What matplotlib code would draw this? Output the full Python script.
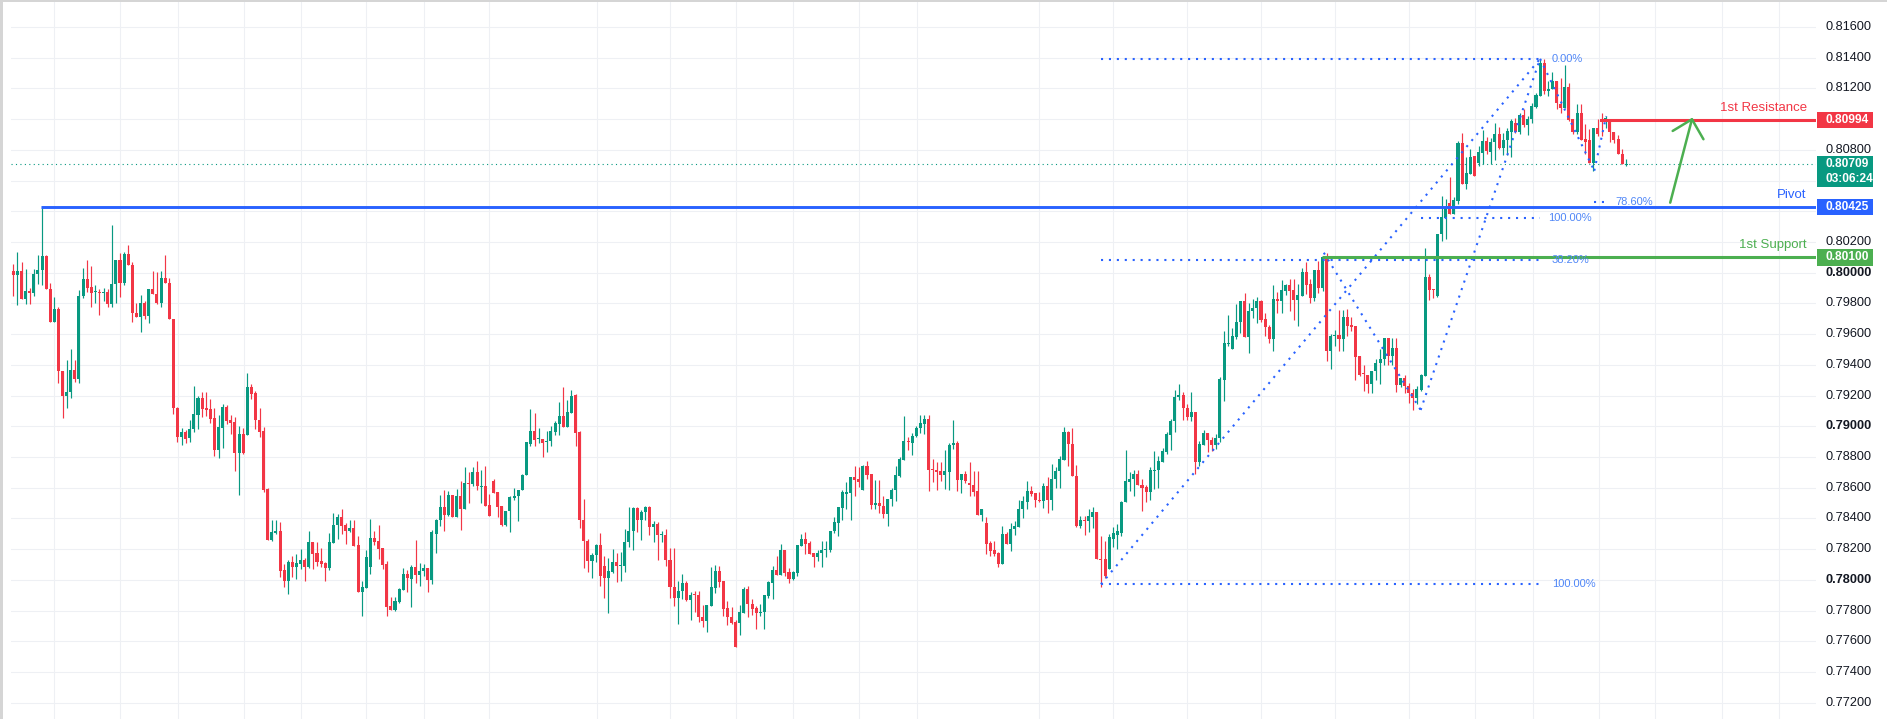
import numpy as np
import matplotlib
matplotlib.use("Agg")
import matplotlib.pyplot as plt
from matplotlib import transforms
from matplotlib.patches import Rectangle

plt.rcParams['font.family'] = ['Liberation Sans', 'DejaVu Sans']

# ---------------- data ----------------
opens = [
 0.80013,0.79983,0.80013,0.79827,0.79883,0.79866,0.79989,0.80015,0.80111,0.79896,
 0.79677,0.79766,0.79363,0.79196,0.79222,0.79369,0.79311,0.79846,0.79961,0.79905,
 0.79874,0.79876,0.79872,0.79876,0.79794,0.79924,0.80080,0.79935,0.80124,0.80052,
 0.79740,0.79710,0.79805,0.79716,0.79894,0.79861,0.79801,0.79967,0.79935,0.79701,
 0.79121,0.78930,0.78960,0.78925,0.78985,0.79073,0.79185,0.79116,0.79110,0.79051,
 0.78845,0.78989,0.79123,0.79038,0.79025,0.78826,0.78947,0.78943,0.79253,0.79214,
 0.79038,0.78967,0.78592,0.78260,0.78304,0.78317,0.78065,0.77994,0.78117,0.78085,
 0.78102,0.78128,0.78085,0.78245,0.78174,0.78121,0.78108,0.78078,0.78241,0.78356,
 0.78408,0.78356,0.78319,0.78336,0.78226,0.77922,0.77948,0.78085,0.78271,0.78254,
 0.78206,0.78102,0.77829,0.77803,0.77857,0.77935,0.78037,0.78007,0.78083,0.78033,
 0.78059,0.78078,0.77996,0.78300,0.78387,0.78474,0.78424,0.78552,0.78406,0.78548,
 0.78459,0.78633,0.78626,0.78704,0.78609,0.78613,0.78489,0.78646,0.78572,0.78478,
 0.78354,0.78446,0.78530,0.78543,0.78583,0.78680,0.78887,0.78967,0.78915,0.78920,
 0.78896,0.78902,0.78961,0.79015,0.79065,0.78993,0.79087,0.79202,0.78961,0.78391,
 0.78254,0.78124,0.78163,0.78224,0.78091,0.78015,0.78054,0.78117,0.78093,0.78089,
 0.78245,0.78317,0.78468,0.78388,0.78444,0.78473,0.78342,0.78366,0.78290,0.78295,
 0.78132,0.77956,0.77882,0.77930,0.77980,0.77867,0.77904,0.77900,0.77761,0.77731,
 0.77831,0.77950,0.78056,0.77991,0.77817,0.77761,0.77724,0.77720,0.77785,0.77943,
 0.77843,0.77817,0.77787,0.77791,0.77893,0.77980,0.78067,0.78034,0.78197,0.78052,
 0.78008,0.78047,0.78219,0.78269,0.78240,0.78175,0.78147,0.78175,0.78193,0.78197,
 0.78317,0.78371,0.78468,0.78562,0.78566,0.78668,0.78659,0.78583,0.78740,0.78692,
 0.78486,0.78501,0.78484,0.78431,0.78527,0.78583,0.78679,0.78783,0.78902,0.78891,
 0.78935,0.78989,0.79017,0.79050,0.78724,0.78718,0.78707,0.78685,0.78701,0.78881,
 0.78889,0.78648,0.78692,0.78631,0.78620,0.78577,0.78425,0.78371,0.78240,0.78193,
 0.78175,0.78104,0.78299,0.78232,0.78330,0.78343,0.78461,0.78504,0.78580,0.78565,
 0.78522,0.78511,0.78613,0.78522,0.78656,0.78706,0.78783,0.78961,0.78887,0.78678,
 0.78352,0.78391,0.78380,0.78406,0.78439,0.78137,0.78137,0.78072,0.78267,0.78293,
 0.78304,0.78504,0.78635,0.78657,0.78691,0.78615,0.78602,0.78570,0.78713,0.78713,
 0.78765,0.78833,0.78946,0.79033,0.79191,0.79206,0.79120,0.79059,0.79093,0.78765,
 0.78881,0.78957,0.78913,0.78880,0.78922,0.79304,0.79533,0.79500,0.79580,0.79678,
 0.79813,0.79580,0.79750,0.79772,0.79813,0.79696,0.79648,0.79565,0.79830,0.79813,
 0.79880,0.79917,0.79885,0.79820,0.79848,0.80004,0.79924,0.79833,0.80015,0.79898,
 0.80102,0.79489,0.79589,0.79593,0.79565,0.79713,0.79657,0.79652,0.79456,0.79343,
 0.79337,0.79272,0.79359,0.79413,0.79435,0.79572,0.79457,0.79507,0.79268,0.79312,
 0.79262,0.79218,0.79186,0.79236,0.79327,0.79974,0.79896,0.79848,0.80249,0.80358,
 0.80456,0.80380,0.80466,0.80842,0.80575,0.80640,0.80760,0.80712,0.80781,0.80857,
 0.80786,0.80851,0.80901,0.80809,0.80862,0.80916,0.80977,0.80918,0.81024,0.80961,
 0.80998,0.81081,0.81150,0.81363,0.81183,0.81194,0.81248,0.81096,0.81074,0.81211,
 0.80998,0.80916,0.81037,0.80868,0.80864,0.80716,0.80944,0.81003,0.80981,0.81003,
 0.80916,0.80873,0.80773,0.80705]

highs = [
 0.80059,0.80132,0.80067,0.80026,0.79900,0.80026,0.80117,0.80425,0.80117,0.79935,
 0.79844,0.79775,0.79363,0.79434,0.79506,0.79434,0.79885,0.80033,0.80085,0.80046,
 0.79922,0.79896,0.79902,0.79896,0.80312,0.80085,0.80128,0.80132,0.80182,0.80072,
 0.79801,0.79857,0.79818,0.79894,0.80013,0.80002,0.80011,0.80113,0.79965,0.79701,
 0.79125,0.78990,0.78975,0.79040,0.79262,0.79200,0.79222,0.79222,0.79175,0.79120,
 0.79071,0.79142,0.79136,0.79071,0.79058,0.79003,0.78990,0.79344,0.79272,0.79229,
 0.79120,0.78997,0.78596,0.78388,0.78388,0.78375,0.78102,0.78128,0.78156,0.78167,
 0.78200,0.78141,0.78317,0.78245,0.78245,0.78210,0.78117,0.78308,0.78438,0.78427,
 0.78460,0.78371,0.78388,0.78388,0.78286,0.77994,0.78193,0.78394,0.78317,0.78358,
 0.78206,0.78122,0.77890,0.77890,0.77948,0.78074,0.78063,0.78098,0.78261,0.78109,
 0.78102,0.78078,0.78322,0.78398,0.78554,0.78587,0.78580,0.78552,0.78591,0.78641,
 0.78735,0.78704,0.78735,0.78772,0.78717,0.78743,0.78561,0.78657,0.78572,0.78478,
 0.78450,0.78543,0.78598,0.78587,0.78689,0.78896,0.79113,0.79087,0.78989,0.78920,
 0.78972,0.79000,0.79037,0.79161,0.79254,0.79174,0.79233,0.79207,0.78967,0.78528,
 0.78267,0.78174,0.78233,0.78304,0.78152,0.78141,0.78201,0.78175,0.78182,0.78332,
 0.78473,0.78475,0.78475,0.78457,0.78479,0.78484,0.78381,0.78375,0.78321,0.78334,
 0.78206,0.78206,0.77995,0.78041,0.77991,0.77919,0.77930,0.77930,0.77833,0.77839,
 0.78082,0.78095,0.78093,0.77991,0.77865,0.77822,0.77741,0.77833,0.77952,0.77958,
 0.77872,0.77828,0.77843,0.77904,0.77995,0.78093,0.78154,0.78236,0.78197,0.78078,
 0.78056,0.78230,0.78299,0.78312,0.78251,0.78175,0.78197,0.78256,0.78256,0.78321,
 0.78408,0.78473,0.78583,0.78638,0.78668,0.78740,0.78733,0.78750,0.78776,0.78692,
 0.78653,0.78653,0.78544,0.78527,0.78599,0.78740,0.78800,0.79065,0.78928,0.78957,
 0.79000,0.79072,0.79072,0.79072,0.78790,0.78768,0.78768,0.78848,0.78892,0.79043,
 0.78907,0.78692,0.78711,0.78766,0.78711,0.78711,0.78458,0.78408,0.78251,0.78251,
 0.78180,0.78353,0.78312,0.78370,0.78385,0.78517,0.78548,0.78646,0.78609,0.78565,
 0.78572,0.78630,0.78670,0.78756,0.78735,0.78809,0.78996,0.78967,0.78989,0.78750,
 0.78417,0.78417,0.78461,0.78472,0.78439,0.78283,0.78254,0.78298,0.78341,0.78365,
 0.78515,0.78848,0.78700,0.78717,0.78717,0.78659,0.78620,0.78733,0.78841,0.78804,
 0.78859,0.78961,0.79050,0.79239,0.79276,0.79224,0.79148,0.79224,0.79093,0.78906,
 0.78978,0.78957,0.78930,0.78950,0.79320,0.79620,0.79722,0.79641,0.79798,0.79813,
 0.79870,0.79804,0.79826,0.79843,0.79820,0.79735,0.79657,0.79917,0.79874,0.79950,
 0.79928,0.79961,0.79961,0.79928,0.80033,0.80070,0.79957,0.80015,0.80076,0.80102,
 0.80130,0.79598,0.79630,0.79754,0.79757,0.79761,0.79713,0.79652,0.79456,0.79396,
 0.79337,0.79363,0.79440,0.79500,0.79572,0.79576,0.79572,0.79572,0.79312,0.79333,
 0.79283,0.79240,0.79262,0.79338,0.80158,0.79989,0.79896,0.80249,0.80499,0.80480,
 0.80625,0.80493,0.80857,0.80912,0.80755,0.80803,0.80760,0.80825,0.80929,0.80885,
 0.80879,0.80977,0.80948,0.80912,0.80944,0.81003,0.81009,0.81042,0.81068,0.81020,
 0.81107,0.81172,0.81393,0.81389,0.81248,0.81309,0.81248,0.81270,0.81350,0.81237,
 0.80998,0.81096,0.81096,0.80966,0.80933,0.80944,0.80998,0.81037,0.81020,0.81003,
 0.80916,0.80894,0.80803,0.80738]

lows = [
 0.79846,0.79788,0.79827,0.79796,0.79794,0.79850,0.79926,0.79918,0.79892,0.79677,
 0.79677,0.79281,0.79051,0.79116,0.79181,0.79287,0.79281,0.79833,0.79876,0.79775,
 0.79801,0.79727,0.79818,0.79779,0.79779,0.79801,0.79840,0.79918,0.80048,0.79677,
 0.79710,0.79614,0.79697,0.79671,0.79861,0.79798,0.79775,0.79931,0.79699,0.79080,
 0.78900,0.78880,0.78890,0.78900,0.78960,0.78980,0.79060,0.79066,0.79021,0.78806,
 0.78791,0.78856,0.79012,0.78951,0.78709,0.78553,0.78817,0.78943,0.79179,0.78984,
 0.78930,0.78572,0.78260,0.78254,0.78297,0.78020,0.77955,0.77909,0.78020,0.78007,
 0.78069,0.77994,0.78078,0.78069,0.78091,0.78083,0.77994,0.78067,0.78237,0.78265,
 0.78297,0.78232,0.78314,0.78221,0.77922,0.77762,0.77948,0.78035,0.78228,0.78134,
 0.78069,0.77766,0.77803,0.77795,0.77846,0.77931,0.77922,0.77826,0.77978,0.77963,
 0.78028,0.77924,0.77976,0.78174,0.78348,0.78315,0.78413,0.78406,0.78406,0.78322,
 0.78459,0.78500,0.78609,0.78583,0.78500,0.78483,0.78413,0.78565,0.78409,0.78348,
 0.78348,0.78311,0.78517,0.78380,0.78583,0.78680,0.78870,0.78870,0.78891,0.78798,
 0.78830,0.78874,0.78946,0.78946,0.78993,0.78993,0.79087,0.78870,0.78337,0.78076,
 0.78054,0.78015,0.78113,0.77963,0.77880,0.77787,0.78045,0.77984,0.77995,0.78050,
 0.78212,0.78197,0.78312,0.78262,0.78388,0.78290,0.78245,0.78132,0.78245,0.78089,
 0.77882,0.77828,0.77713,0.77872,0.77860,0.77737,0.77791,0.77726,0.77694,0.77661,
 0.77831,0.77915,0.77952,0.77763,0.77709,0.77713,0.77561,0.77639,0.77785,0.77757,
 0.77774,0.77683,0.77763,0.77683,0.77882,0.77876,0.78034,0.78034,0.78024,0.77980,
 0.78002,0.78024,0.78219,0.78171,0.78165,0.78082,0.78121,0.78082,0.78147,0.78180,
 0.78306,0.78284,0.78392,0.78464,0.78388,0.78549,0.78603,0.78583,0.78657,0.78458,
 0.78458,0.78436,0.78403,0.78349,0.78479,0.78516,0.78668,0.78783,0.78844,0.78816,
 0.78928,0.78957,0.78950,0.78577,0.78640,0.78588,0.78642,0.78594,0.78588,0.78855,
 0.78577,0.78566,0.78631,0.78544,0.78544,0.78425,0.78382,0.78169,0.78158,0.78154,
 0.78082,0.78104,0.78234,0.78185,0.78293,0.78343,0.78402,0.78461,0.78548,0.78472,
 0.78506,0.78467,0.78435,0.78452,0.78598,0.78598,0.78783,0.78739,0.78674,0.78343,
 0.78336,0.78289,0.78309,0.78337,0.78135,0.77956,0.78011,0.78072,0.78217,0.78202,
 0.78287,0.78504,0.78576,0.78548,0.78615,0.78446,0.78506,0.78522,0.78591,0.78598,
 0.78765,0.78822,0.78843,0.78961,0.79170,0.79043,0.79043,0.79033,0.78689,0.78743,
 0.78881,0.78833,0.78840,0.78850,0.78900,0.79163,0.79522,0.79500,0.79565,0.79609,
 0.79580,0.79478,0.79707,0.79674,0.79678,0.79587,0.79539,0.79489,0.79735,0.79735,
 0.79854,0.79750,0.79689,0.79652,0.79848,0.79859,0.79804,0.79815,0.79870,0.79880,
 0.79424,0.79374,0.79522,0.79489,0.79489,0.79591,0.79620,0.79300,0.79330,0.79228,
 0.79217,0.79217,0.79300,0.79278,0.79402,0.79402,0.79402,0.79222,0.79257,0.79218,
 0.79153,0.79105,0.79142,0.79229,0.79327,0.79822,0.79833,0.79843,0.80206,0.80217,
 0.80380,0.80380,0.80445,0.80575,0.80542,0.80640,0.80629,0.80694,0.80705,0.80770,
 0.80705,0.80734,0.80803,0.80764,0.80764,0.80755,0.80912,0.80905,0.80951,0.80896,
 0.80977,0.81074,0.81150,0.81161,0.81150,0.81194,0.81063,0.81042,0.81074,0.80988,
 0.80901,0.80901,0.80864,0.80770,0.80712,0.80662,0.80890,0.80890,0.80944,0.80851,
 0.80846,0.80770,0.80705,0.80694]

closes = [
 0.79983,0.80013,0.79827,0.79883,0.79866,0.79994,0.80020,0.80111,0.79892,0.79677,
 0.79766,0.79359,0.79196,0.79224,0.79369,0.79311,0.79850,0.79961,0.79902,0.79866,
 0.79876,0.79872,0.79876,0.79794,0.79928,0.80080,0.79935,0.80124,0.80048,0.79736,
 0.79710,0.79805,0.79716,0.79894,0.79861,0.79801,0.79967,0.79931,0.79699,0.79121,
 0.78930,0.78960,0.78920,0.78985,0.79080,0.79184,0.79110,0.79105,0.79047,0.78845,
 0.78993,0.79123,0.79032,0.79021,0.78826,0.78947,0.78828,0.79253,0.79209,0.79038,
 0.78962,0.78583,0.78260,0.78312,0.78317,0.78059,0.77994,0.78117,0.78085,0.78108,
 0.78128,0.78085,0.78245,0.78167,0.78117,0.78104,0.78078,0.78245,0.78356,0.78408,
 0.78351,0.78319,0.78336,0.78221,0.77922,0.77952,0.78148,0.78271,0.78245,0.78200,
 0.78098,0.77825,0.77803,0.77861,0.77942,0.78037,0.78015,0.78083,0.78033,0.78059,
 0.78078,0.77996,0.78309,0.78391,0.78474,0.78424,0.78552,0.78406,0.78548,0.78459,
 0.78633,0.78626,0.78704,0.78609,0.78613,0.78483,0.78413,0.78565,0.78472,0.78354,
 0.78450,0.78537,0.78548,0.78587,0.78685,0.78896,0.78967,0.78913,0.78920,0.78891,
 0.78900,0.78967,0.79022,0.79065,0.78993,0.79091,0.79200,0.78957,0.78391,0.78250,
 0.78124,0.78163,0.78224,0.78022,0.78015,0.78059,0.78117,0.78089,0.78095,0.78249,
 0.78321,0.78468,0.78388,0.78444,0.78473,0.78342,0.78366,0.78290,0.78295,0.78132,
 0.77952,0.77882,0.77930,0.77980,0.77867,0.77904,0.77900,0.77757,0.77731,0.77833,
 0.77952,0.78056,0.77984,0.77813,0.77757,0.77720,0.77561,0.77791,0.77943,0.77843,
 0.77813,0.77785,0.77791,0.77898,0.77984,0.78067,0.78034,0.78197,0.78045,0.78008,
 0.78052,0.78225,0.78269,0.78236,0.78171,0.78147,0.78175,0.78197,0.78204,0.78321,
 0.78375,0.78473,0.78570,0.78570,0.78668,0.78653,0.78635,0.78740,0.78685,0.78486,
 0.78501,0.78479,0.78431,0.78527,0.78588,0.78685,0.78790,0.78902,0.78896,0.78939,
 0.78989,0.79022,0.79050,0.78718,0.78718,0.78701,0.78685,0.78707,0.78881,0.78889,
 0.78648,0.78692,0.78642,0.78616,0.78572,0.78425,0.78458,0.78236,0.78186,0.78165,
 0.78104,0.78299,0.78234,0.78333,0.78348,0.78463,0.78511,0.78580,0.78561,0.78517,
 0.78517,0.78613,0.78522,0.78659,0.78711,0.78789,0.78961,0.78885,0.78674,0.78352,
 0.78391,0.78385,0.78413,0.78439,0.78135,0.78130,0.78028,0.78276,0.78304,0.78315,
 0.78507,0.78641,0.78659,0.78691,0.78615,0.78598,0.78570,0.78717,0.78717,0.78772,
 0.78841,0.78952,0.79037,0.79191,0.79206,0.79120,0.79059,0.79093,0.78765,0.78885,
 0.78957,0.78913,0.78880,0.78922,0.79311,0.79539,0.79543,0.79587,0.79680,0.79813,
 0.79580,0.79750,0.79772,0.79813,0.79689,0.79646,0.79565,0.79830,0.79813,0.79885,
 0.79917,0.79880,0.79820,0.79852,0.80004,0.79917,0.79833,0.80015,0.79898,0.80102,
 0.79489,0.79591,0.79593,0.79565,0.79713,0.79652,0.79648,0.79452,0.79337,0.79339,
 0.79272,0.79363,0.79413,0.79441,0.79572,0.79457,0.79507,0.79267,0.79312,0.79262,
 0.79218,0.79186,0.79240,0.79331,0.79974,0.79887,0.79887,0.80249,0.80362,0.80423,
 0.80380,0.80471,0.80842,0.80575,0.80647,0.80755,0.80629,0.80788,0.80857,0.80792,
 0.80851,0.80901,0.80809,0.80862,0.80922,0.80988,0.80918,0.81024,0.80959,0.81003,
 0.81085,0.81155,0.81363,0.81183,0.81198,0.81248,0.81107,0.81074,0.81211,0.80994,
 0.80916,0.81037,0.80864,0.80851,0.80716,0.80944,0.80901,0.80981,0.81009,0.80916,
 0.80862,0.80770,0.80705,0.80709]

# visible price-scale labels (0.80400, 0.80600, 0.81000 are hidden under the level boxes)
price_ticks = [0.772, 0.774, 0.776, 0.778, 0.780, 0.782, 0.784, 0.786, 0.788, 0.790,
               0.792, 0.794, 0.796, 0.798, 0.800, 0.802, 0.808, 0.812, 0.814, 0.816]
price_tick_labels = ["0.77200", "0.77400", "0.77600", "0.77800", "0.78000", "0.78200",
                     "0.78400", "0.78600", "0.78800", "0.79000", "0.79200", "0.79400",
                     "0.79600", "0.79800", "0.80000", "0.80200", "0.80800", "0.81200",
                     "0.81400", "0.81600"]
grid_prices = [0.772, 0.774, 0.776, 0.778, 0.780, 0.782, 0.784, 0.786, 0.788, 0.790,
               0.792, 0.794, 0.796, 0.798, 0.800, 0.802, 0.804, 0.806, 0.808, 0.810,
               0.812, 0.814, 0.816]
bold_labels = {"0.78000", "0.79000", "0.80000"}

pivot = 0.80425
resistance = 0.80994
support = 0.80100
last_price = 0.80709
countdown = "03:06:24"

# Fibonacci drawings: (x0, x1, price, label)
fib_levels = [(265, 372, 0.81393, "0.00%"),
              (265, 372, 0.80082, "38.20%"),
              (265, 372, 0.77971, "100.00%"),
              (342.9, 372, 0.80358, "100.00%"),
              (385.2, 388.1, 0.80462, "78.60%")]
fib_label_px = [1552, 1552, 1552, 1548, 1615]
fib_legs = [((265, 0.77971), (372, 0.81393)),
            ((319.3, 0.80130), (342.9, 0.79106)),
            ((342.9, 0.79106), (372, 0.81393)),
            ((372, 0.81393), (385.2, 0.80664)),
            ((385.2, 0.80664), (388.1, 0.81020))]

# ---------------- figure ----------------
W, H = 1887, 719
fig = plt.figure(figsize=(W / 100, H / 100), dpi=100)
fig.patch.set_facecolor('white')
ax = fig.add_axes([11 / W, 0, (1815.5 - 11) / W, 1])
ymin, ymax = 0.770938, 0.817757
ax.set_xlim(-0.56, 439.1)
ax.set_ylim(ymin, ymax)
ax.axis('off')
ppx = (ymax - ymin) / H  # price per pixel

GREEN = '#089981'
RED = '#f23645'
BLUE = '#2962ff'
SUP = '#4caf50'
GRID = '#eef0f4'

# grid
for p in grid_prices:
    ax.axhline(p, color=GRID, lw=0.8, zorder=0)
for gx in [9.9, 26.0, 40.1, 56.1, 70.2, 86.0, 100.1, 116.0, 142.2, 160.0, 176.2, 190.0,
           206.1, 220.1, 250.0, 268.0, 286.0, 304.1, 322.1, 340.1, 356.2, 370.2, 386.3,
           400.0, 416.4, 430.2]:
    ax.axvline(gx, color=GRID, lw=0.8, zorder=0)

# candles
o = np.array(opens); h = np.array(highs); l = np.array(lows); c = np.array(closes)
x = np.arange(len(o))
cols = np.where(c >= o, GREEN, RED)
ax.vlines(x, l, h, colors=cols, lw=0.85, zorder=3)
body_lo = np.minimum(o, c)
body_h = np.abs(c - o)
small = body_h < ppx
body_lo = np.where(small, (o + c) / 2 - ppx / 2, body_lo)
body_h = np.where(small, ppx, body_h)
ax.bar(x, body_h, bottom=body_lo, width=0.74, color=cols, linewidth=0, zorder=4)

# current price dotted line
ax.axhline(last_price, color=GREEN, lw=0.8, ls=(0, (1, 3)), zorder=2)

# fib drawings
dot = (0, (1, 2.8))
for x0, x1, p, lab in fib_levels:
    ax.plot([x0, x1], [p, p], color=BLUE, lw=1.5, ls=dot, zorder=5, dash_capstyle='butt')
for (xa, pa), (xb, pb) in fib_legs:
    ax.plot([xa, xb], [pa, pb], color=BLUE, lw=1.5, ls=dot, zorder=5, dash_capstyle='butt')

# horizontal levels
ax.plot([6.7, 439.1], [pivot, pivot], color=BLUE, lw=2.1, zorder=6, solid_capstyle='butt')
ax.plot([386.6, 439.1], [resistance, resistance], color=RED, lw=2.2, zorder=6, solid_capstyle='butt')
ax.plot([318.8, 439.1], [support, support], color=SUP, lw=2.2, zorder=6, solid_capstyle='butt')

# green arrow
ax.plot([403.7, 409.0], [0.80456, 0.80999], color=SUP, lw=1.8, zorder=7, solid_capstyle='round')
ax.plot([404.3, 409.0, 411.8], [0.80923, 0.80999, 0.80869], color=SUP, lw=1.8, zorder=7,
        solid_capstyle='round', solid_joinstyle='round')

# texts for levels (figure x, data y)
tr = transforms.blended_transform_factory(fig.transFigure, ax.transData)
ax.text(1806.7 / W, resistance + 12 * ppx, "1st Resistance", transform=tr, ha='right',
        va='center', color=RED, fontsize=9.5, zorder=8, clip_on=False)
ax.text(1806.7 / W, pivot + 12 * ppx, "Pivot", transform=tr, ha='right',
        va='center', color=BLUE, fontsize=9.5, zorder=8, clip_on=False)
ax.text(1806.7 / W, support + 12 * ppx, "1st Support", transform=tr, ha='right',
        va='center', color=SUP, fontsize=9.5, zorder=8, clip_on=False)

for (x0, x1, p, lab), fx in zip(fib_levels, fib_label_px):
    ax.text(fx / W, p, lab, transform=tr, ha='left', va='center', color='#4f86f7',
            fontsize=8, zorder=8, clip_on=False)

# right price scale labels
for p, lab in zip(price_ticks, price_tick_labels):
    ax.text(1825 / W, p, lab, transform=tr, ha='left', va='center', color='#131722',
            fontsize=9.2, fontweight='bold' if lab in bold_labels else 'normal',
            zorder=8, clip_on=False)

def price_box(p, color, top_px, bot_px, lines):
    rect = Rectangle((1817 / W, p - bot_px * ppx), 56 / W, (top_px + bot_px) * ppx,
                     transform=tr, facecolor=color, edgecolor='none', zorder=10,
                     clip_on=False)
    ax.add_patch(rect)
    for k, t in enumerate(lines):
        ax.text(1825 / W, p - k * 15 * ppx, t, transform=tr, ha='left', va='center',
                color='white', fontsize=8.6, fontweight='bold', zorder=11, clip_on=False)

price_box(resistance, RED, 8, 8, ["0.80994"])
price_box(last_price, GREEN, 8, 23.5, ["0.80709", countdown])
price_box(pivot, BLUE, 8, 8, ["0.80425"])
price_box(support, SUP, 8.5, 8.5, ["0.80100"])

# thin screenshot border strips
fig.add_artist(Rectangle((0, 0), 3 / W, 1, transform=fig.transFigure,
                         facecolor='#d5d5d5', edgecolor='none'))
fig.add_artist(Rectangle((0, 1 - 1.5 / H), 1, 1.5 / H, transform=fig.transFigure,
                         facecolor='#d5d5d5', edgecolor='none'))

fig.savefig("out.png", dpi=100, facecolor='white')
